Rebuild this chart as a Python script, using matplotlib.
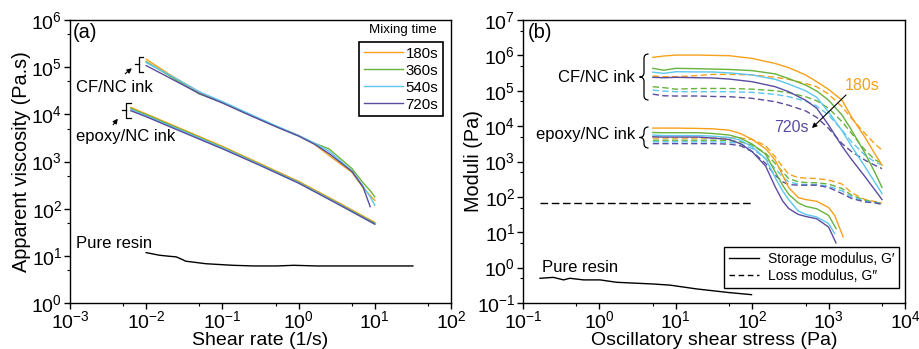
import numpy as np
import matplotlib
matplotlib.use('Agg')
import matplotlib.pyplot as plt
from matplotlib.path import Path
from matplotlib.patches import PathPatch
from matplotlib.lines import Line2D
from matplotlib.ticker import LogLocator, NullFormatter

plt.rcParams['font.family'] = ['Liberation Sans', 'DejaVu Sans']
plt.rcParams['mathtext.default'] = 'regular'

W, H = 919, 349

mixing_times = ['180s', '360s', '540s', '720s']
colors = ['#F7A11A', '#67B23C', '#5CC6F0', '#5A4DA0']

# ---------------- Panel (a): viscosity ----------------
shear_rate_cf = [0.01, 0.02, 0.05, 0.1, 0.2, 0.5, 1, 1.6, 2.5, 5, 7, 8.7, 10]
visc_cf_180 = [1.47e5, 7.1e4, 2.95e4, 1.78e4, 1.07e4, 5.6e3, 3.55e3, 2.35e3, 1.35e3, 590, 280, 190, 150]
visc_cf_360 = [1.31e5, 6.6e4, 2.7e4, 1.78e4, 1.07e4, 5.6e3, 3.55e3, 2.45e3, 1.86e3, 710, 355, 240, 178]
visc_cf_540 = [1.25e5, 6.9e4, 3.0e4, 1.86e4, 1.12e4, 5.75e3, 3.55e3, 2.45e3, 1.66e3, 630, 300, 178, 118]
visc_cf_720 = [1.08e5, 6.0e4, 2.75e4, 1.74e4, 1.05e4, 5.5e3, 3.45e3, 2.35e3, 1.48e3, 620, 290, 110, np.nan]

shear_rate_ep = [0.0063, 0.01, 0.03, 0.1, 0.3, 1, 3, 10]
visc_ep_180 = [1.4e4, 1.02e4, 4.8e3, 2.1e3, 930, 380, 148, 51]
visc_ep_360 = [1.32e4, 9.8e3, 4.6e3, 2.0e3, 890, 363, 141, 49]
visc_ep_540 = [1.26e4, 9.3e3, 4.4e3, 1.95e3, 870, 355, 138, 47]
visc_ep_720 = [1.19e4, 8.9e3, 4.2e3, 1.86e3, 850, 347, 135, 47]

shear_rate_resin = [0.01, 0.0149, 0.02, 0.0248, 0.03, 0.033, 0.061, 0.137, 0.257, 0.52, 0.86, 1.74, 31.6]
visc_resin = [11.7, 10.3, 9.8, 9.5, 8.3, 7.7, 6.8, 6.3, 6.1, 6.1, 6.3, 6.1, 6.1]

# ---------------- Panel (b): moduli ----------------
stress_cf = [5, 7, 10, 20, 30, 50, 100, 200, 300, 500, 700, 1000, 1500, 2000, 3000, 4000, 5000]
Gp_cf_180 = [8.8e5, 9.6e5, 1.02e6, 1.02e6, 1.0e6, 9.8e5, 8.2e5, 5.9e5, 4.5e5, 2.8e5, 1.8e5, 1.09e5, 5.4e4, 1.8e4, 4.8e3, 1.7e3, 790]
Gp_cf_360 = [4.3e5, 3.8e5, 4.3e5, 4.2e5, 4.1e5, 4.0e5, 3.7e5, 3.0e5, 2.2e5, 1.45e5, 9.8e4, 5.4e4, 2.05e4, 7.7e3, 1.7e3, 510, 184]
Gp_cf_540 = [3.35e5, 3.1e5, 3.45e5, 3.4e5, 3.4e5, 3.2e5, 2.8e5, 2.1e5, 1.55e5, 1.0e5, 6.5e4, 2.5e4, 7.4e3, 2.7e3, 710, 266, 124]
Gp_cf_720 = [2.4e5, 2.33e5, 2.4e5, 2.33e5, 2.3e5, 2.14e5, 1.8e5, 1.3e5, 9.4e4, 5.4e4, 3.2e4, 1.07e4, 2.7e3, 1.14e3, 370, 161, 84]
Gpp_cf_180 = [2.6e5, 2.5e5, 2.5e5, 2.7e5, 2.9e5, 2.9e5, 2.8e5, 2.4e5, 2.1e5, 1.6e5, 1.3e5, 8.0e4, 3.5e4, 1.65e4, 6.2e3, 3.2e3, 2.1e3]
Gpp_cf_360 = [1.3e5, 1.22e5, 1.11e5, 1.16e5, 1.16e5, 1.16e5, 1.11e5, 1.0e5, 8.8e4, 6.8e4, 5.2e4, 3.2e4, 1.33e4, 6.2e3, 2.1e3, 1.14e3, 880]
Gpp_cf_540 = [1.04e5, 9.8e4, 9.4e4, 9.4e4, 9.4e4, 9.4e4, 9.0e4, 7.9e4, 6.8e4, 5.1e4, 3.7e4, 2.05e4, 7.7e3, 3.6e3, 1.5e3, 980, 790]
Gpp_cf_720 = [8.0e4, 7.2e4, 7.1e4, 7.1e4, 6.9e4, 6.8e4, 6.1e4, 4.9e4, 3.9e4, 2.7e4, 1.76e4, 8.6e3, 3.2e3, 1.9e3, 1.09e3, 790, 630]

stress_ep_Gp_180 = [5, 7, 10, 20, 30, 50, 70, 100, 150, 200, 250, 300, 400, 500, 700, 1000, 1200, 1550]
stress_ep_Gp_360 = [5, 7, 10, 20, 30, 50, 70, 100, 150, 200, 250, 300, 400, 500, 700, 1000, 1250]
stress_ep_Gp_540 = [5, 7, 10, 20, 30, 50, 70, 100, 150, 200, 250, 300, 400, 500, 700, 1000, 1200]
stress_ep_Gp_720 = [5, 7, 10, 20, 30, 50, 70, 100, 150, 200, 250, 300, 400, 500, 700, 1000, 1250]
Gp_ep_180 = [8.8e3, 8.8e3, 8.8e3, 8.6e3, 8.4e3, 7.7e3, 6.2e3, 4.2e3, 2.3e3, 1.09e3, 410, 184, 96, 84, 75, 50, 30, 7.4]
Gp_ep_360 = [6.6e3, 6.5e3, 6.5e3, 6.5e3, 6.2e3, 5.6e3, 4.6e3, 3.1e3, 1.6e3, 510, 214, 119, 68, 54, 46, 30, 12.7]
Gp_ep_540 = [5.6e3, 5.4e3, 5.4e3, 5.4e3, 5.2e3, 4.8e3, 4.0e3, 2.6e3, 1.2e3, 350, 148, 84, 40, 32, 27, 17.6, 9.2]
Gp_ep_720 = [5.0e3, 4.9e3, 4.9e3, 4.9e3, 4.6e3, 4.2e3, 3.2e3, 1.9e3, 740, 192, 77, 47, 32, 28, 24, 14, 5.0]

stress_ep_Gpp = [5, 7, 10, 20, 30, 50, 70, 100, 150, 200, 250, 300, 400, 500, 700, 1000, 1500, 2000, 3000, 4000, 5000]
Gpp_ep_180 = [4.6e3, 4.6e3, 4.6e3, 4.6e3, 4.6e3, 4.6e3, 4.6e3, 4.2e3, 2.8e3, 1.36e3, 710, 440, 350, 340, 330, 300, 230, 130, 84, 74, 68]
Gpp_ep_360 = [4.0e3, 4.0e3, 4.0e3, 4.0e3, 4.0e3, 3.9e3, 3.6e3, 2.9e3, 1.7e3, 880, 510, 330, 266, 255, 249, 230, 172, 111, 80, 72, 65]
Gpp_ep_540 = [3.6e3, 3.6e3, 3.6e3, 3.6e3, 3.6e3, 3.5e3, 3.2e3, 2.3e3, 1.2e3, 630, 370, 266, 230, 223, 223, 200, 148, 100, 75, 69, 62]
Gpp_ep_720 = [3.2e3, 3.2e3, 3.2e3, 3.2e3, 3.2e3, 3.1e3, 2.8e3, 1.9e3, 880, 410, 266, 223, 214, 214, 214, 184, 124, 90, 72, 68, 62]

stress_resin = [0.167, 0.25, 0.34, 0.41, 0.62, 1.02, 1.68, 5.1, 8.4, 18.7, 51, 98]
Gp_resin = [0.50, 0.53, 0.45, 0.50, 0.45, 0.45, 0.385, 0.344, 0.32, 0.25, 0.196, 0.172]
stress_resin_Gpp = [0.167, 98]
Gpp_resin = [66, 66]

# ---------------- Figure ----------------
fig = plt.figure(figsize=(W / 100, H / 100), dpi=100)
ax1 = fig.add_axes([70 / W, 1 - 303 / H, 381 / W, 283 / H])
ax2 = fig.add_axes([523 / W, 1 - 303 / H, 382 / W, 283 / H])

LW = 1.0
DASH = (0, (4.5, 2.4))

visc_cf = [visc_cf_180, visc_cf_360, visc_cf_540, visc_cf_720]
visc_ep = [visc_ep_180, visc_ep_360, visc_ep_540, visc_ep_720]
handles_a = []
for i, c in enumerate(colors):
    ax1.loglog(shear_rate_ep, visc_ep[i], color=c, lw=LW)
for i, c in enumerate(colors):
    h, = ax1.loglog(shear_rate_cf, visc_cf[i], color=c, lw=LW)
    handles_a.append(h)
ax1.loglog(shear_rate_resin, visc_resin, color='black', lw=LW)

Gp_cf = [Gp_cf_180, Gp_cf_360, Gp_cf_540, Gp_cf_720]
Gpp_cf = [Gpp_cf_180, Gpp_cf_360, Gpp_cf_540, Gpp_cf_720]
st_ep_Gp = [stress_ep_Gp_180, stress_ep_Gp_360, stress_ep_Gp_540, stress_ep_Gp_720]
Gp_ep = [Gp_ep_180, Gp_ep_360, Gp_ep_540, Gp_ep_720]
Gpp_ep = [Gpp_ep_180, Gpp_ep_360, Gpp_ep_540, Gpp_ep_720]
for i, c in enumerate(colors):
    ax2.loglog(stress_cf, Gpp_cf[i], color=c, lw=LW, ls=DASH)
    ax2.loglog(stress_ep_Gpp, Gpp_ep[i], color=c, lw=LW, ls=DASH)
for i, c in enumerate(colors):
    ax2.loglog(stress_cf, Gp_cf[i], color=c, lw=LW)
    ax2.loglog(st_ep_Gp[i], Gp_ep[i], color=c, lw=LW)
ax2.loglog(stress_resin, Gp_resin, color='black', lw=LW)
ax2.loglog(stress_resin_Gpp, Gpp_resin, color='black', lw=LW, ls=(0, (5.5, 2.6)))

ax1.set_xlim(1e-3, 1e2)
ax1.set_ylim(1, 1e6)
ax2.set_xlim(1e-1, 1e4)
ax2.set_ylim(1e-1, 1e7)

for ax in (ax1, ax2):
    for sp in ax.spines.values():
        sp.set_linewidth(1.0)
    for axis in (ax.xaxis, ax.yaxis):
        axis.set_major_locator(LogLocator(base=10, numticks=20))
        axis.set_minor_locator(LogLocator(base=10, subs=(5,), numticks=20))
        axis.set_minor_formatter(NullFormatter())
    ax.tick_params(which='major', direction='out', length=4, width=1.0, labelsize=14, pad=1.5)
    ax.tick_params(which='minor', direction='out', length=2.5, width=0.8)

ax1.set_xlabel('Shear rate (1/s)', fontsize=14)
ax1.set_ylabel('Apparent viscosity (Pa.s)', fontsize=14.3)
ax2.set_xlabel('Oscillatory shear stress (Pa)', fontsize=14)
ax2.set_ylabel('Moduli (Pa)', fontsize=14.3)
ax1.xaxis.set_label_coords(0.5, -0.104)
ax2.xaxis.set_label_coords(0.5, -0.104)
ax1.yaxis.set_label_coords(-0.103, 0.5)
ax2.yaxis.set_label_coords(-0.105, 0.5)

# legends
leg1 = ax1.legend(handles_a, mixing_times, loc='upper right', bbox_to_anchor=(0.979, 0.922),
                  borderaxespad=0, frameon=True, fancybox=False, edgecolor='black',
                  fontsize=10.8, handlelength=2.6, handletextpad=0.2, labelspacing=0.2,
                  borderpad=0.3, framealpha=1)
leg1.get_frame().set_linewidth(1.2)

hb = [Line2D([], [], color='black', lw=LW),
      Line2D([], [], color='black', lw=LW, ls=(0, (4, 2.6)))]
leg2 = ax2.legend(hb, ['Storage modulus, G\u2032', 'Loss modulus, G\u2033'], loc='lower right',
                  bbox_to_anchor=(0.984, 0.053), borderaxespad=0, frameon=True, fancybox=False,
                  edgecolor='black', fontsize=10, handlelength=2.2, handletextpad=0.6,
                  labelspacing=0.25, borderpad=0.35, framealpha=1)
leg2.get_frame().set_linewidth(1.0)


def T(x, y, s, **kw):
    return fig.text(x / W, 1 - y / H, s, **kw)


def seg(xs, ys, lw=0.9):
    fig.add_artist(Line2D([x / W for x in xs], [1 - y / H for y in ys],
                          transform=fig.transFigure, color='black', lw=lw))


def arrow(x0, y0, x1, y1):
    fig.add_artist(matplotlib.patches.FancyArrowPatch(
        (x0 / W, 1 - y0 / H), (x1 / W, 1 - y1 / H), transform=fig.transFigure,
        arrowstyle='-|>', mutation_scale=7, lw=0.8, color='black'))


def brace(x, yt, yb, d=4.5):
    ym = (yt + yb) / 2
    pts = [(x + d, yt), (x, yt), (x, yt + d), (x, ym - d), (x, ym), (x - d, ym),
           (x, ym), (x, ym + d), (x, yb - d), (x, yb), (x + d, yb)]
    codes = [Path.MOVETO, Path.CURVE3, Path.CURVE3, Path.LINETO, Path.CURVE3, Path.CURVE3,
             Path.CURVE3, Path.CURVE3, Path.LINETO, Path.CURVE3, Path.CURVE3]
    p = Path([(px / W, 1 - py / H) for px, py in pts], codes)
    fig.add_artist(PathPatch(p, transform=fig.transFigure, fc='none', ec='black', lw=0.9))


# panel (a) annotations
T(73, 33, '(a)', fontsize=14.5, ha='left', va='center')
T(76, 87, 'CF/NC ink', fontsize=12, ha='left', va='center')
T(76, 137, 'epoxy/NC ink', fontsize=12, ha='left', va='center')
T(76, 243, 'Pure resin', fontsize=12, ha='left', va='center')
T(403, 30, 'Mixing time', fontsize=9.6, ha='center', va='center')
seg([135, 139], [64.3, 64.3])
seg([143.3, 139, 139, 143.3], [56.7, 56.7, 71.7, 71.7])
seg([121.7, 126], [110.5, 110.5])
seg([130.7, 126, 126, 130.7], [102.7, 102.7, 118.3, 118.3])
arrow(123, 75.5, 134, 66.5)
arrow(111.5, 127, 119.5, 116.5)

# panel (b) annotations
T(528, 33, '(b)', fontsize=14.5, ha='left', va='center')
T(635, 77, 'CF/NC ink', fontsize=12, ha='right', va='center')
T(635, 135, 'epoxy/NC ink', fontsize=12, ha='right', va='center')
T(542, 268, 'Pure resin', fontsize=12, ha='left', va='center')
T(862, 86, '180s', fontsize=11.5, ha='center', va='center', color=colors[0])
T(791, 128, '720s', fontsize=11.5, ha='center', va='center', color=colors[3])
brace(644, 54, 100)
brace(644, 127, 148)
arrow(848, 93, 810, 130)

fig.savefig('out.png', dpi=100)
